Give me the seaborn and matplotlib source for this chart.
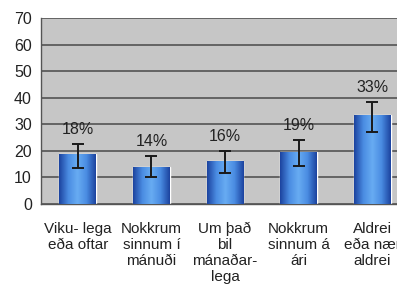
import numpy as np
import pandas as pd
import matplotlib
matplotlib.use("Agg")
import matplotlib.pyplot as plt
import seaborn as sns
from matplotlib.colors import LinearSegmentedColormap

# Data
categories = ["Viku- lega\neða oftar", "Nokkrum\nsinnum í\nmánuði",
              "Um það\nbil\nmánaðar-\nlega", "Nokkrum\nsinnum á\nári",
              "Aldrei\neða nær\naldrei"]
values = [18.7, 14.0, 16.1, 19.5, 33.5]
err_low = [13.7, 10.0, 11.8, 14.4, 27.2]
err_high = [22.6, 18.1, 20.1, 24.1, 38.5]
labels = ["18%", "14%", "16%", "19%", "33%"]
y_ticks = [0, 10, 20, 30, 40, 50, 60, 70]

sns.set_style("white")
plt.rcParams['font.family'] = ['Liberation Sans', 'DejaVu Sans']

df = pd.DataFrame({"cat": categories, "val": values})

fig = plt.figure(figsize=(3.97, 2.92), dpi=100)
ax = fig.add_axes([41 / 397, 88 / 292, 368 / 397, 186 / 292])
ax.set_facecolor("#c6c6c6")

sns.barplot(data=df, x="cat", y="val", color="#3a78d0", width=0.5,
            ax=ax, zorder=2)

# gradient fill for the bars
cmap = LinearSegmentedColormap.from_list(
    "bar", ["#1c44a0", "#4a8ce2", "#68acf2", "#4a8ce2", "#1c44a0"])
grad = np.linspace(0, 1, 64).reshape(1, -1)
for p in ax.patches:
    x0, y0 = p.get_x(), p.get_y()
    w, h = p.get_width(), p.get_height()
    im = ax.imshow(grad, cmap=cmap, aspect="auto", zorder=3,
                   extent=[x0, x0 + w, y0, y0 + h])
    im.set_clip_path(p)

x = np.arange(len(values))
yerr = [np.array(values) - np.array(err_low), np.array(err_high) - np.array(values)]
ax.errorbar(x, values, yerr=yerr, fmt="none", ecolor="#1a1a1a",
            elinewidth=1.4, capsize=4, capthick=1.4, zorder=4)

for xi, top, lab in zip(x, err_high, labels):
    ax.annotate(lab, (xi, top), xytext=(0, 10.5), textcoords="offset points",
                ha="center", va="center", fontsize=11.5, color="#222222")

ax.set_ylim(0, 70)
ax.set_xlim(-0.5, 4.5)
ax.set_yticks(y_ticks)
ax.yaxis.grid(True, color="#4a4a4a", linewidth=1.1)
ax.set_axisbelow(True)
ax.set_xlabel("")
ax.set_ylabel("")

for s in ["top", "right"]:
    ax.spines[s].set_visible(False)
for s in ["left", "bottom"]:
    ax.spines[s].set_color("#555555")
    ax.spines[s].set_linewidth(1.0)

ax.tick_params(axis="y", direction="inout", length=5, color="#555555",
               labelsize=11.5, labelcolor="#222222", pad=4)
ax.set_xticks(x)
ax.set_xticklabels(categories, fontsize=11, color="#222222", linespacing=1.17)
ax.tick_params(axis="x", length=0, pad=13)
ax.set_xticks(np.arange(-0.5, 5, 1), minor=True)
ax.tick_params(axis="x", which="minor", direction="out", length=4, color="#555555")

fig.savefig("out.png", dpi=100)
